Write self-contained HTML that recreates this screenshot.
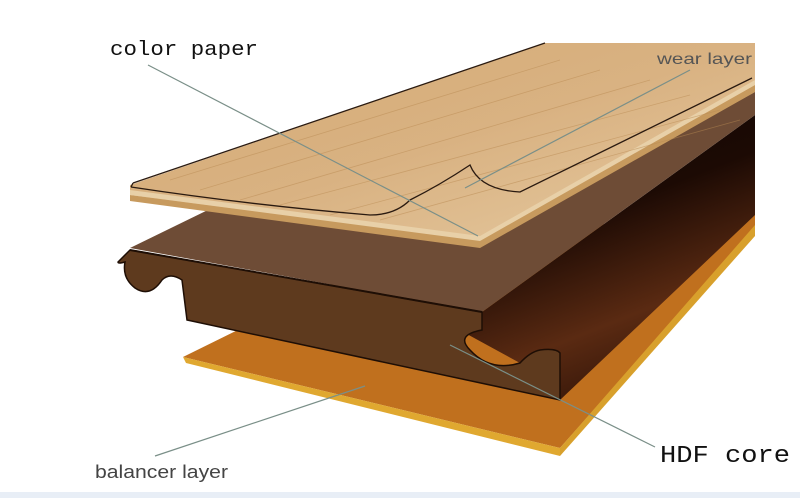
<!DOCTYPE html>
<html><head><meta charset="utf-8"><style>
html,body{margin:0;padding:0;background:#fff;width:800px;height:498px;overflow:hidden}
svg{display:block}
</style></head><body>
<svg width="800" height="498" viewBox="0 0 800 498" xmlns="http://www.w3.org/2000/svg">
<defs>
<linearGradient id="wood" x1="0" y1="0" x2="1" y2="1">
<stop offset="0" stop-color="#d4aa74"/><stop offset="0.5" stop-color="#d9b282"/><stop offset="1" stop-color="#e6cba2"/>
</linearGradient>
<linearGradient id="chan" x1="0.3" y1="0" x2="0.7" y2="1">
<stop offset="0" stop-color="#120602"/><stop offset="0.35" stop-color="#1c0a04"/><stop offset="0.7" stop-color="#5a2a12"/><stop offset="1" stop-color="#2a1006"/>
</linearGradient>
</defs>
<rect x="0" y="0" width="800" height="498" fill="#fff"/>
<rect x="0" y="492" width="800" height="6" fill="#e8eef6"/>
<!-- balancer -->
<polygon points="183,357 560,448 755,228 755,205 400,250" fill="#c0701e"/>
<polygon points="183,357 560,448 560,456 186,363" fill="#e0a830"/>
<polygon points="560,448 755,225 755,236 560,456" fill="#d8a02c"/>
<!-- core channel -->
<polygon points="482,312 755,115 755,215 560,400 560,353 540,350 520,363 465,333 482,330" fill="url(#chan)"/>
<!-- core top face -->
<polygon points="130,248 540,48 755,60 755,115 482,312" fill="#6e4c36"/>
<!-- core front face -->
<path d="M130,250 L482,312 L482,330 Q455,335 470,350 Q490,372 520,363 Q530,352 540,350 Q556,348 560,353 L560,400 L187,320 L182,280 Q170,272 162,280 Q150,298 135,288 Q122,278 125,262 Q118,264 118,262 Z" fill="#5e3a1e" stroke="#1e0e05" stroke-width="1.5"/>
<line x1="130" y1="250" x2="482" y2="312" stroke="#1e0e05" stroke-width="2"/>
<!-- wood board -->
<polygon points="130,185 545,43 755,43 755,92 480,245 130,195" fill="url(#wood)"/>
<polygon points="130,195 480,240 755,85 755,92 480,248 130,201" fill="#c79a5e"/>
<polygon points="130,190 480,236 755,80 755,85 480,241 130,195" fill="#e8d0a8"/>
<g stroke="#b98a52" stroke-width="0.8" opacity="0.5">
<line x1="170" y1="180" x2="560" y2="60"/><line x1="200" y1="190" x2="600" y2="70"/>
<line x1="240" y1="200" x2="650" y2="80"/><line x1="280" y1="205" x2="690" y2="95"/>
<line x1="330" y1="215" x2="720" y2="110"/><line x1="380" y1="220" x2="740" y2="120"/>
</g>
<!-- wear layer outline with curl -->
<path d="M133,183 L545,43 M131,187 Q250,205 370,215 Q395,215 410,200 Q440,185 470,165 Q480,190 520,192 L752,78" fill="none" stroke="#2a1a10" stroke-width="1.3"/>
<path d="M131,187 L133,183" stroke="#2a1a10" stroke-width="1.3"/>
<!-- leader lines -->
<g stroke="#7a8f88" stroke-width="1.2" fill="none">
<line x1="148" y1="65" x2="478" y2="236"/>
<line x1="690" y1="70" x2="465" y2="188"/>
<line x1="655" y1="447" x2="450" y2="345"/>
<line x1="155" y1="456" x2="365" y2="386"/>
</g>
<!-- labels -->
<text x="110" y="55" font-family="Liberation Mono, monospace" font-size="20" fill="#111" textLength="148" lengthAdjust="spacingAndGlyphs">color paper</text>
<text x="657" y="64" font-family="Liberation Sans, sans-serif" font-size="16" fill="#555" textLength="95" lengthAdjust="spacingAndGlyphs">wear layer</text>
<text x="660" y="462" font-family="Liberation Mono, monospace" font-size="24" fill="#111" textLength="130" lengthAdjust="spacingAndGlyphs">HDF core</text>
<text x="95" y="478" font-family="Liberation Sans, sans-serif" font-size="18" fill="#444" textLength="133" lengthAdjust="spacingAndGlyphs">balancer layer</text>
</svg>
</body></html>
